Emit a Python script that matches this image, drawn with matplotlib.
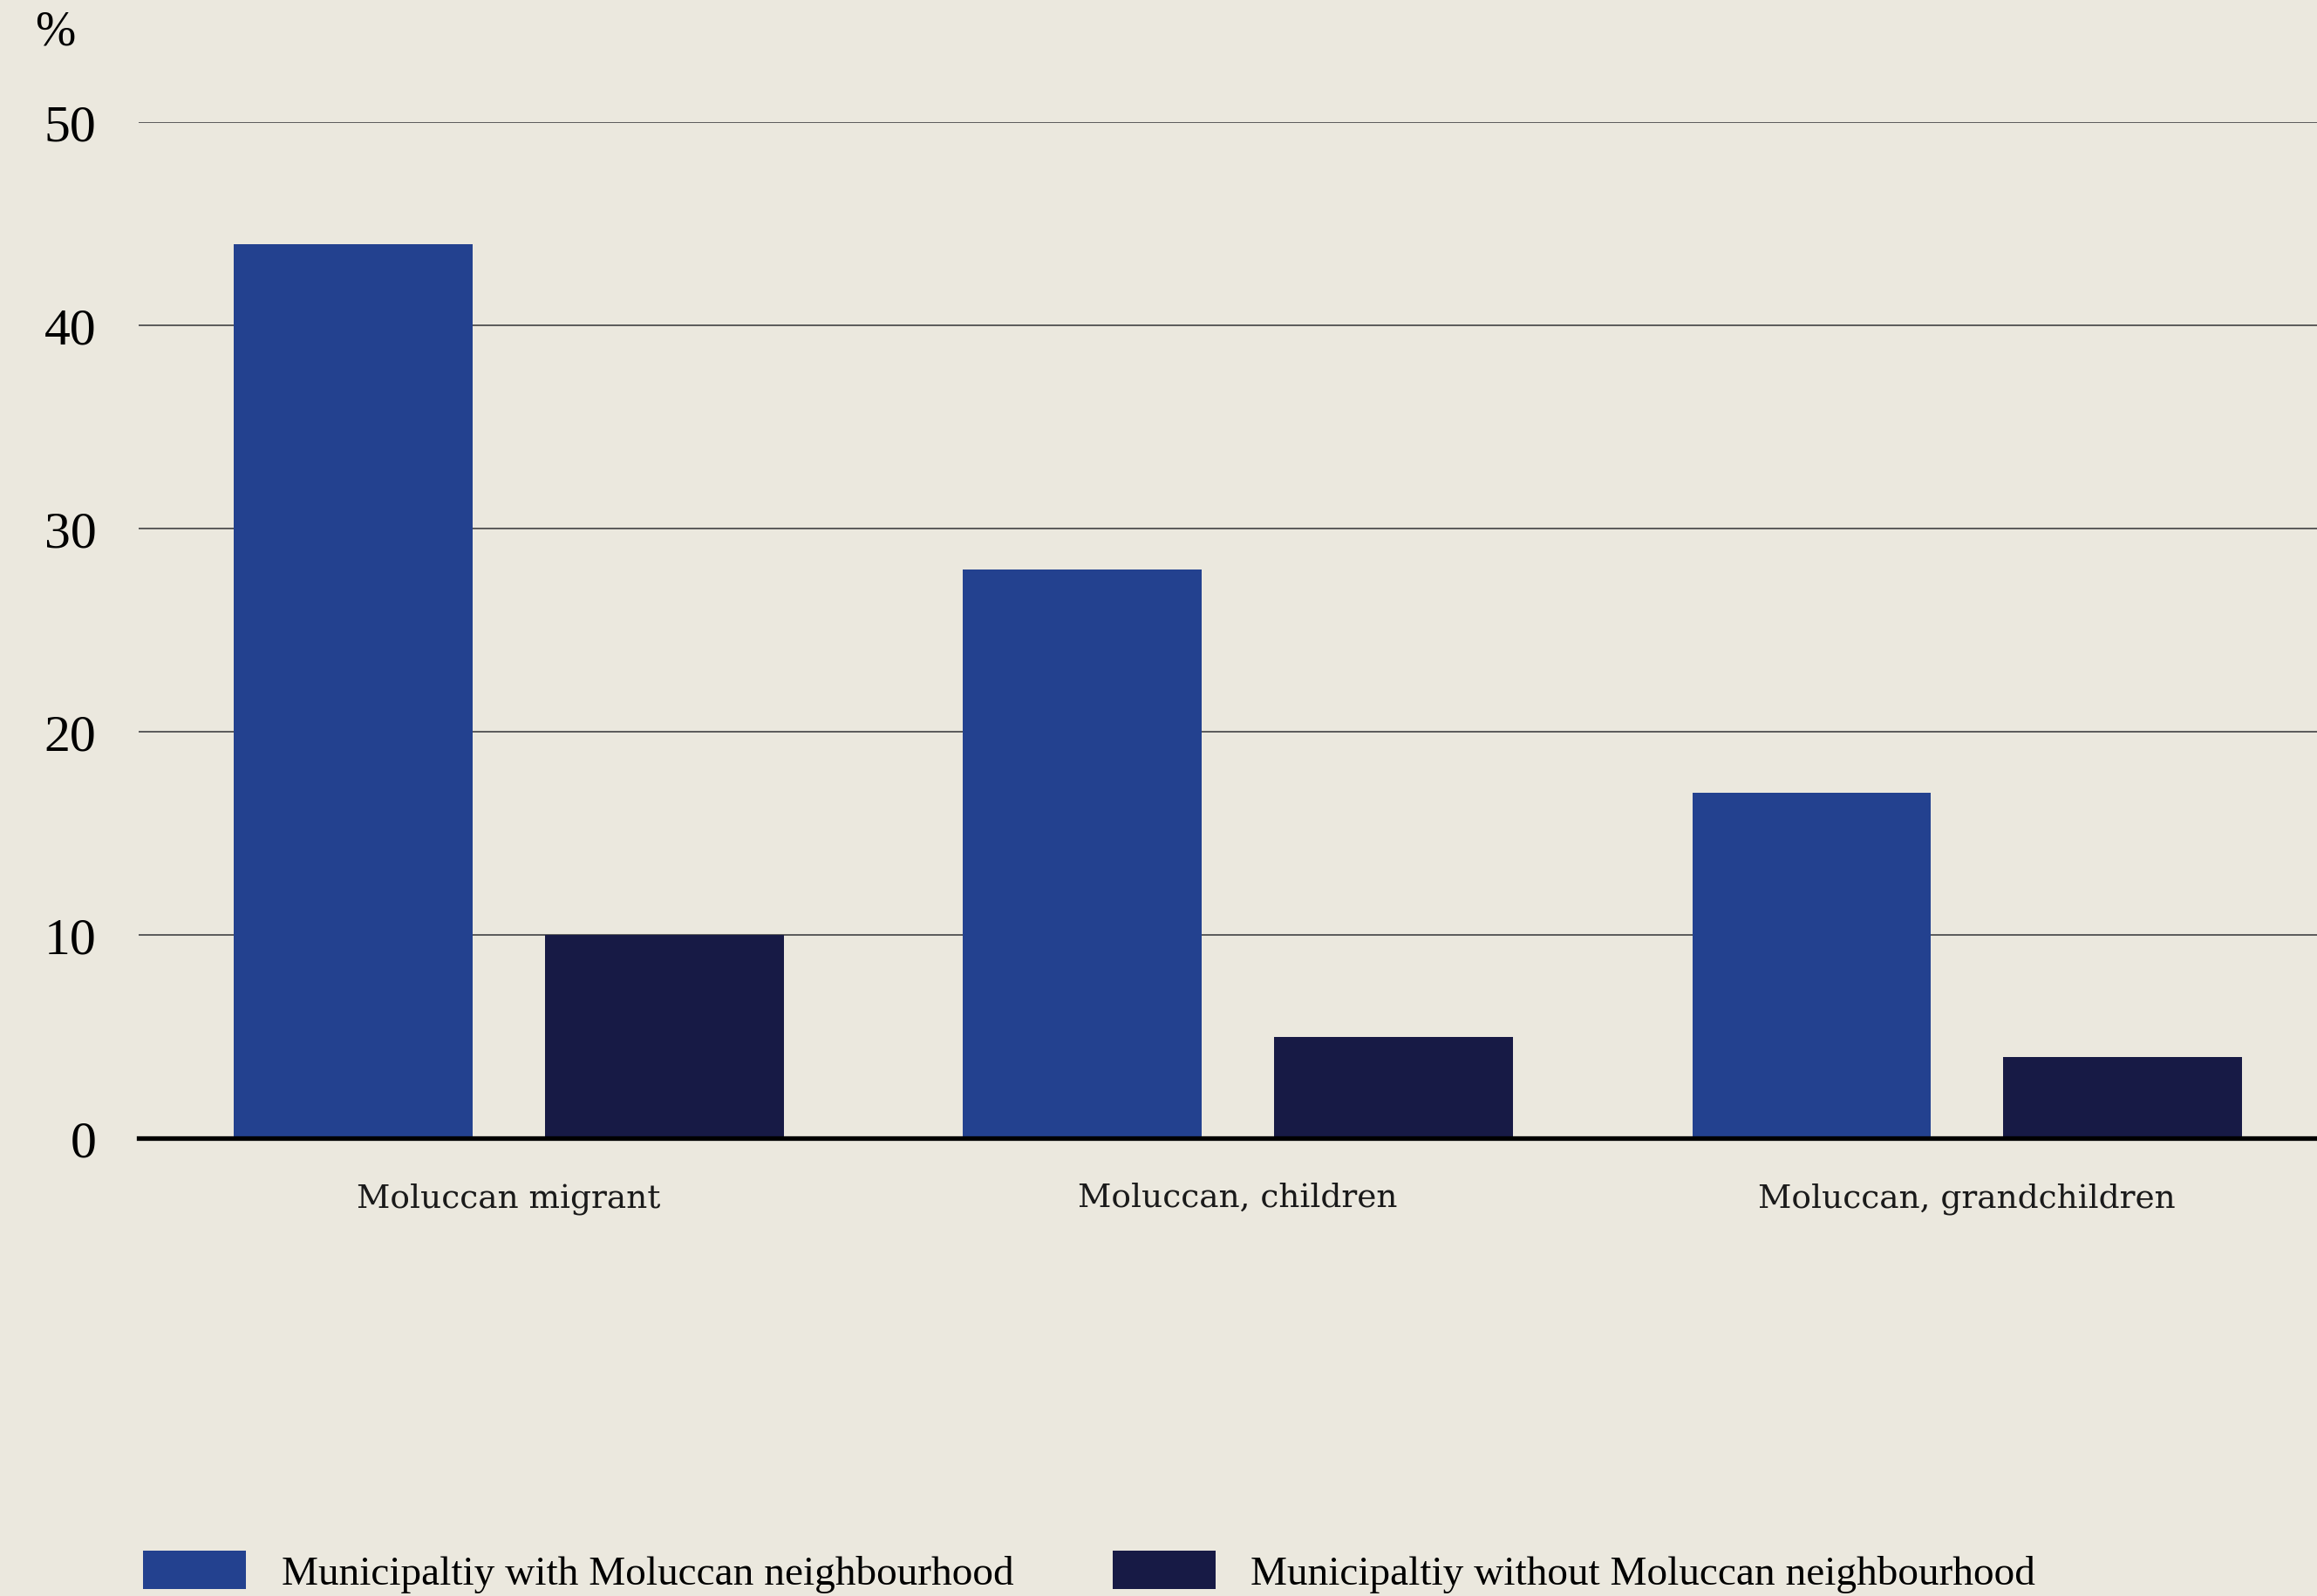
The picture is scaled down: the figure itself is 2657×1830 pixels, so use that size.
import numpy as np
import matplotlib
matplotlib.use("Agg")
import matplotlib.pyplot as plt

categories = ["Moluccan migrant", "Moluccan, children", "Moluccan, grandchildren"]
with_nbh = [44, 28, 17]
without_nbh = [10, 5, 4]
series_labels = [
    "Municipaltiy with Moluccan neighbourhood",
    "Municipaltiy without Moluccan neighbourhood",
]
yticks = [0, 10, 20, 30, 40, 50]

BG = "#ebe8de"
BLUE = "#23418f"
DARK = "#171a45"


def main():
    fig = plt.figure(figsize=(26.57, 18.31), dpi=100, facecolor=BG)
    ax = fig.add_axes([0.0598, 0.2867, 0.9402, 0.6363], facecolor=BG)

    x = np.arange(len(categories))
    width = 0.327
    offset = (width + 0.1) / 2
    ax.bar(x - offset, with_nbh, width, color=BLUE, label=series_labels[0], zorder=3)
    ax.bar(x + offset, without_nbh, width, color=DARK, label=series_labels[1], zorder=3)

    ax.set_xlim(-0.508, 2.48)
    ax.set_ylim(0, 50)
    ax.set_yticks(yticks)
    ax.set_yticklabels([str(t) for t in yticks], family="Liberation Serif", fontsize=43)
    ax.yaxis.grid(True, color="#5a5a5a", linewidth=1.4, zorder=0)
    ax.axhline(0, color="black", linewidth=3.8, zorder=4, clip_on=False)
    ax.tick_params(axis="y", length=0, pad=35)
    ax.tick_params(axis="x", length=0, pad=36)
    ax.set_xticks(x)
    ax.set_xticklabels(categories, family="DejaVu Serif", fontsize=27, color="#1a1a1a")
    for s in ax.spines.values():
        s.set_visible(False)

    fig.text(63 / 2657, 1 - 37 / 1831, "%", family="Liberation Serif", fontsize=40,
             ha="center", va="center")

    fig.legend(loc="lower left", bbox_to_anchor=(164 / 2657, 4 / 1831), ncol=2,
               frameon=False, prop={"family": "Liberation Serif", "size": 34},
               handlelength=2.5, handleheight=1.05, handletextpad=0.86,
               columnspacing=2.4, borderpad=0, borderaxespad=0)

    fig.savefig("out.png", dpi=100, facecolor=BG)


if __name__ == "__main__":
    main()
